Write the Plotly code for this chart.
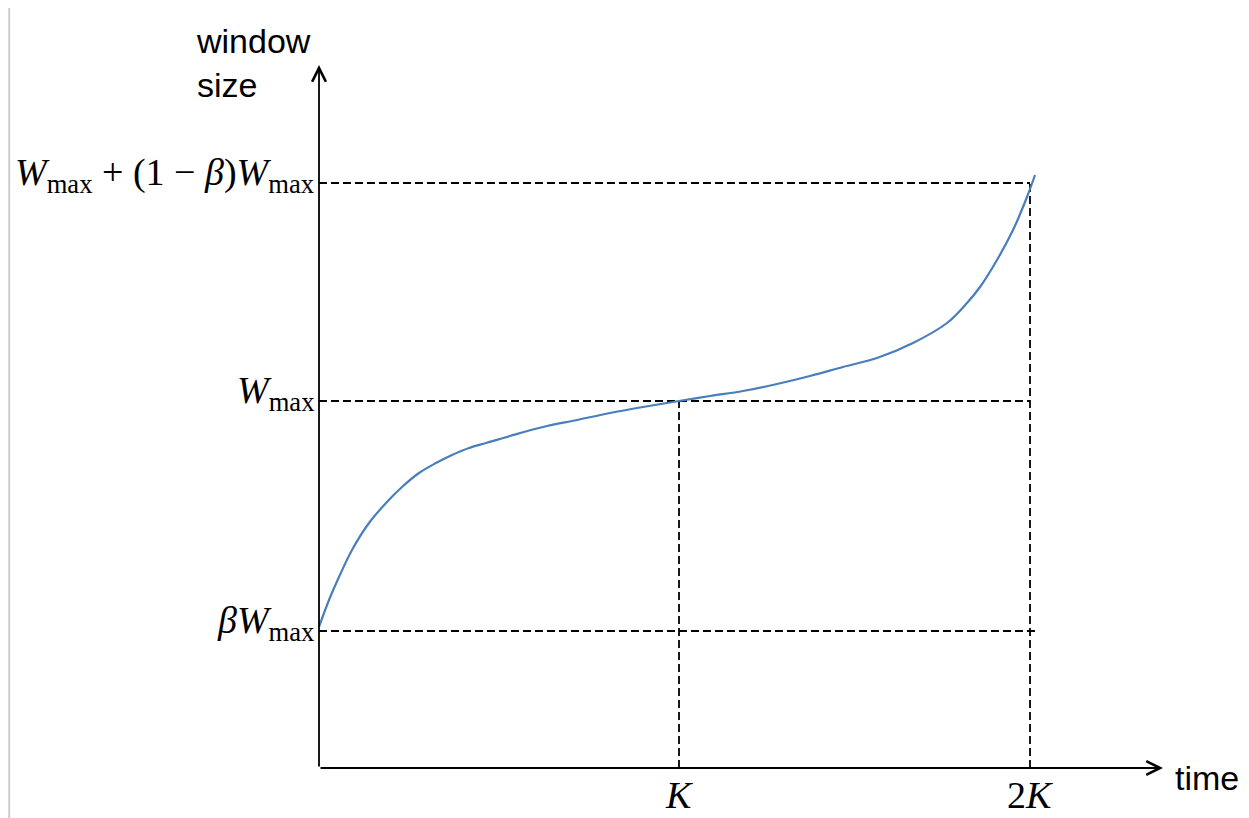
import plotly.graph_objects as go

# curve (time, window size), arbitrary units
time_vals = [0, 10, 20, 33, 50, 67, 83, 100, 117, 133, 150, 167, 191, 224, 258, 291,
             324, 360, 391, 424, 458, 491, 524, 558, 594, 628, 648, 661, 678, 694, 708, 716]
window_vals = [141, 168, 191, 218, 245, 265, 281, 295, 305, 313, 320, 325, 332, 341, 348, 355,
               361, 367, 372, 377, 384, 392, 401, 410, 425, 445, 465, 481, 508, 538, 571, 593]

# reference levels
beta_wmax = 137
wmax = 367
w_top = 585
k_time = 360
two_k_time = 711
x_axis_end = 844
y_axis_end = 703

y_levels = [beta_wmax, wmax, w_top]
y_level_ends = [718, two_k_time, two_k_time]
y_labels = [
    "<i>β</i><i>W</i><sub>max</sub>",
    "<i>W</i><sub>max</sub>",
    "<i>W</i><sub>max</sub> + (1 − <i>β</i>)<i>W</i><sub>max</sub>",
]
x_marks = [k_time, two_k_time]
x_mark_tops = [wmax, w_top]
x_labels = ["<i>K</i>", "2<i>K</i>"]

MATH_FONT = dict(family="Liberation Serif", size=38, color="black")
TEXT_FONT = dict(family="Liberation Sans", size=34, color="black")
DASH = dict(color="black", width=1.8, dash="8px,4px")

fig = go.Figure()

# dashed guide lines
for lvl, end in zip(y_levels, y_level_ends):
    fig.add_trace(go.Scatter(x=[0, end], y=[lvl, lvl], mode="lines",
                             line=DASH, hoverinfo="skip", showlegend=False))
for xm, top in zip(x_marks, x_mark_tops):
    fig.add_trace(go.Scatter(x=[xm, xm], y=[0, top], mode="lines",
                             line=DASH, hoverinfo="skip", showlegend=False))

# window growth curve
fig.add_trace(go.Scatter(x=time_vals, y=window_vals, mode="lines",
                         line=dict(color="#4a7ebb", width=2.2, shape="spline", smoothing=1.0),
                         showlegend=False))

annotations = []
# axes with open arrowheads
annotations.append(dict(x=0, y=y_axis_end, ax=0, ay=0, xref="x", yref="y",
                        axref="x", ayref="y", showarrow=True, arrowhead=5,
                        arrowsize=1.5, arrowwidth=1.8, arrowcolor="black", text=""))
annotations.append(dict(x=x_axis_end, y=0, ax=0, ay=0, xref="x", yref="y",
                        axref="x", ayref="y", showarrow=True, arrowhead=5,
                        arrowsize=1.5, arrowwidth=1.8, arrowcolor="black", text=""))

for lvl, lab in zip(y_levels, y_labels):
    annotations.append(dict(x=-3, y=lvl, xref="x", yref="y", text=lab,
                            showarrow=False, xanchor="right", yanchor="middle",
                            yshift=8, font=MATH_FONT))
for xm, lab in zip(x_marks, x_labels):
    annotations.append(dict(x=xm, y=0, xref="x", yref="y", text=lab,
                            showarrow=False, xanchor="center", yanchor="top",
                            yshift=-4, font=MATH_FONT))

annotations.append(dict(x=0, y=y_axis_end, xref="x", yref="y",
                        text="window<br>size", showarrow=False, align="left",
                        xanchor="right", yanchor="middle", xshift=-6, yshift=2,
                        font=TEXT_FONT))
annotations.append(dict(x=x_axis_end, y=0, xref="x", yref="y", text="time",
                        showarrow=False, xanchor="left", yanchor="middle",
                        xshift=10, yshift=-10, font=TEXT_FONT))

# the page body adds an 8px margin, so the figure is 8px smaller than the window
fig.update_layout(
    width=1241, height=810,
    margin=dict(l=306, r=86, t=57, b=45),
    paper_bgcolor="white", plot_bgcolor="white",
    xaxis=dict(range=[-5, x_axis_end], visible=False, fixedrange=True),
    yaxis=dict(range=[-5, y_axis_end], visible=False, fixedrange=True),
    annotations=annotations,
    shapes=[dict(type="line", xref="paper", yref="paper", x0=-0.359, x1=-0.359,
                 y0=-0.07, y1=1.1, line=dict(color="#cccccc", width=2))],
)

fig.write_html("out.html")
